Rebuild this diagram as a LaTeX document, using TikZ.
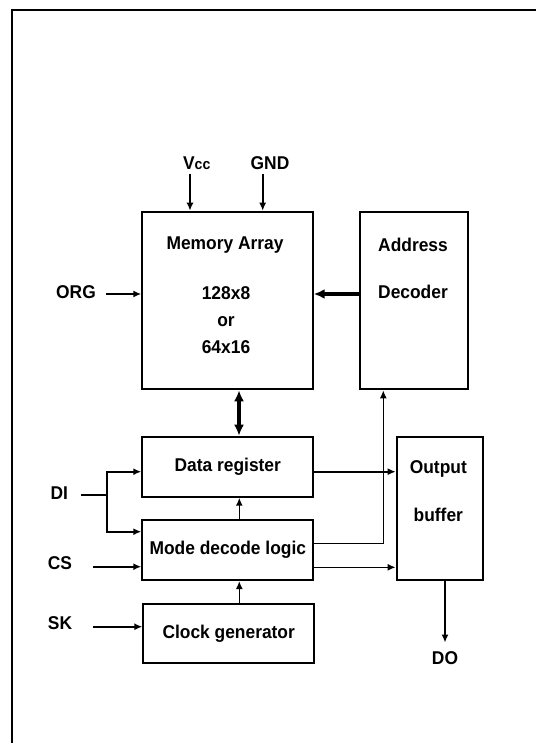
\documentclass[tikz,border=0pt]{standalone}
\usepackage{fontspec}
\newfontfamily\lblfont{Liberation Sans}[UprightFont={* Bold}, FakeStretch=0.94]
\usetikzlibrary{arrows.meta,positioning,calc}

\tikzset{
  blk/.style={draw, line width=2pt, inner sep=0pt},
  lbl/.style={font=\lblfont\fontsize{18.5}{27}\selectfont, inner sep=1pt},
  sig/.style={-{Latex[length=8pt,width=7pt]}, line width=1.6pt},
  bus/.style={-{Latex[length=11pt,width=10pt]}, line width=3.5pt},
}

\begin{document}
\begin{tikzpicture}[x=1pt, y=-1pt]
  \useasboundingbox (0,0) rectangle (536,743);
  % frame
  \draw[line width=2.3pt] (12.3,743) -- (12.3,10) -- (536,10);

  % --- blocks ---
  \node[blk, minimum width=170.4pt, minimum height=177.6pt] (mem) at (227.5,300.5) {};
  \node[blk, minimum width=108.3pt, minimum height=177.6pt] (dec) at (414.2,300.5) {};
  \node[blk, lbl, minimum width=171pt, minimum height=60pt] (dreg) at (227.8,466.7) {Data register};
  \node[blk, lbl, minimum width=171pt, minimum height=60pt] (mode) at (227.8,550) {Mode decode logic};
  \node[blk, lbl, minimum width=170.7pt, minimum height=59.3pt] (clk) at (228.7,633.7) {Clock generator};
  \node[blk, minimum width=86pt, minimum height=142.7pt] (obuf) at (439.7,508.7) {};

  % texts inside blocks
  \node[lbl] (memname) at (225,245) {Memory Array};
  \node[lbl, align=center] (memsize) at (226,320) {128x8\\or\\64x16};
  \node[lbl] (decname1) at (413,245) {Address};
  \node[lbl] (decname2) at (413,291.7) {Decoder};
  \node[lbl] (obufname1) at (438.3,469.3) {Output};
  \node[lbl] (obufname2) at (438.3,515) {buffer};

  % pins
  \node[lbl] (vcc) at (196.7,163) {V{\fontsize{15}{15}\selectfont cc}};
  \node[lbl] (gnd) at (270,163) {GND};
  \node[lbl] (org) at (76,291.7) {ORG};
  \node[lbl] (di) at (59.3,492.7) {DI};
  \node[lbl] (cs) at (60,563.3) {CS};
  \node[lbl] (sk) at (60,623.3) {SK};
  \node[lbl] (do) at (445,658.3) {DO};

  % columns of vertical lines
  \coordinate (vx) at (190,0);
  \coordinate (gx) at (262.7,0);
  \coordinate (bx) at (239,0);
  \coordinate (cx) at (239.3,0);
  \coordinate (ax) at (383.3,0);
  \coordinate (dij) at (106.7,495);

  % --- supply and inputs ---
  \draw[sig] (vcc.south -| vx) ++(0,3) -- (mem.north -| vx);
  \draw[sig] (gnd.south -| gx) ++(0,3) -- (mem.north -| gx);
  \draw[sig] ($(org.east)+(9,2.3)$) coordinate (o1) -- (o1 -| mem.west);
  \draw[line width=1.6pt] ($(di.east)+(12,2.3)$) -- (dij);
  \draw[sig] (dij) |- ($(dreg.west)+(0,5)$);
  \draw[sig] (dij) |- ($(mode.west)+(0,-18.3)$);
  \draw[sig] ($(cs.east)+(20,3.4)$) coordinate (c1) -- (c1 -| mode.west);
  \draw[sig] ($(sk.east)+(20,3.4)$) coordinate (s1) -- (s1 -| clk.west);

  % --- internal paths ---
  \draw[bus] ($(dec.west)+(0,-6.5)$) -- ($(mem.east)+(0,-6.5)$);
  \draw[bus, {Latex[length=11pt,width=10pt]}-{Latex[length=11pt,width=10pt]}] (mem.south -| bx) -- (dreg.north -| bx);
  \draw[sig] (mode.north -| cx) -- (dreg.south -| cx);
  \draw[sig] (clk.north -| cx) -- (mode.south -| cx);
  \draw[sig] ($(dreg.east)+(0,5)$) coordinate (d1) -- (d1 -| obuf.west);
  \draw[sig] ($(mode.east)+(0,-6.7)$) -| (dec.south -| ax);
  \draw[sig] ($(mode.east)+(0,17.3)$) coordinate (m2) -- (m2 -| obuf.west);
  \draw[sig, shorten >=8pt] (obuf.south -| do) -- (do.north);
\end{tikzpicture}
\end{document}
